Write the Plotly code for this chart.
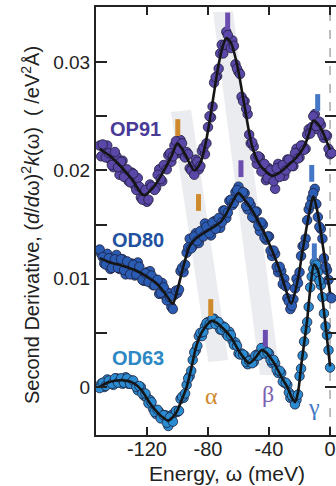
import plotly.graph_objects as go

# ---------------- data ----------------
# fit lines (knots)
op91_line_e = [-151, -144, -138, -130, -122, -116, -110, -104, -100, -95, -89, -85, -82, -79, -76, -73, -70, -68, -65, -61, -56, -51, -46, -42, -38, -33, -28, -22, -17, -14, -11, -8, -5, -2, 0]
op91_line_v = [0.0220, 0.0213, 0.0205, 0.0192, 0.0177, 0.0184, 0.0197, 0.0213, 0.0225, 0.0215, 0.0200, 0.0207, 0.0222, 0.0245, 0.0272, 0.0298, 0.0316, 0.0322, 0.0318, 0.0298, 0.0259, 0.0222, 0.0205, 0.0199, 0.0195, 0.0198, 0.0204, 0.0212, 0.0222, 0.0233, 0.0246, 0.0243, 0.0236, 0.0226, 0.0219]

od80_line_e = [-151, -144, -136, -128, -120, -114, -109, -105, -103, -100, -96, -92, -88, -83, -76, -72, -68, -64, -60, -56, -51, -46, -42, -38, -33, -29, -25.5, -21, -18, -14, -11, -8, -5, -2, 0]
od80_line_v = [0.0119, 0.0115, 0.0112, 0.0108, 0.0102, 0.0096, 0.0088, 0.0080, 0.0077, 0.0090, 0.0112, 0.0130, 0.0137, 0.0142, 0.0148, 0.0152, 0.0160, 0.0171, 0.0179, 0.0173, 0.0163, 0.0150, 0.0139, 0.0126, 0.0108, 0.0090, 0.0077, 0.0100, 0.0126, 0.0158, 0.0176, 0.0160, 0.0133, 0.0105, 0.0087]

od63_line_e = [-151, -146, -140, -134, -128, -123, -118, -112, -106, -101, -97, -94, -91, -88, -85, -82, -78, -75, -70, -65, -60, -56, -53, -49, -45, -42, -38, -35, -31, -28, -25, -23, -21, -19, -17, -15, -13, -10.5, -8, -6, -4, -2, 0]
od63_line_v = [0.0000, 0.0004, 0.0006, 0.0006, 0.0003, -0.0004, -0.0015, -0.0025, -0.0031, -0.0024, -0.0011, 0.0000, 0.0017, 0.0036, 0.0048, 0.0055, 0.0061, 0.0060, 0.0054, 0.0046, 0.0034, 0.0026, 0.0022, 0.0027, 0.0034, 0.0032, 0.0025, 0.0018, 0.0007, 0.0000, -0.0010, -0.0014, -0.0005, 0.0019, 0.0040, 0.0062, 0.0090, 0.0113, 0.0108, 0.0092, 0.0070, 0.0045, 0.0019]

# measured points, first pass (odd energies)
pts_e = [-151, -149, -147, -145, -143, -141, -139, -137, -135, -133, -131, -129, -127, -125, -123, -121, -119, -117, -115, -113,
         -111, -109, -107, -105, -103, -101, -99, -97, -95, -93, -91, -89, -87, -85, -83, -81, -79, -77, -75, -73,
         -71, -69, -67, -65, -63, -61, -59, -57, -55, -53, -51, -49, -47, -45, -43, -41, -39, -37, -35, -33,
         -31, -29, -27, -25, -23, -21, -19, -17, -15, -13, -11, -9, -7, -5, -3, -1, 1]

op91_pts_v = [0.0223, 0.0224, 0.0212, 0.0216, 0.0205, 0.0217, 0.0203, 0.0208, 0.0194, 0.0201, 0.0189, 0.0197, 0.0182, 0.0185, 0.0173, 0.0182, 0.0173, 0.0185, 0.0182, 0.0196,
              0.0192, 0.0205, 0.0201, 0.0216, 0.0213, 0.0227, 0.0219, 0.0225, 0.0212, 0.0215, 0.0200, 0.0196, 0.0208, 0.0204, 0.0221, 0.0225, 0.0250, 0.0259, 0.0286, 0.0294,
              0.0316, 0.0316, 0.0325, 0.0313, 0.0315, 0.0294, 0.0289, 0.0264, 0.0257, 0.0233, 0.0226, 0.0212, 0.0213, 0.0199, 0.0206, 0.0193, 0.0200, 0.0190, 0.0202, 0.0194,
              0.0205, 0.0200, 0.0210, 0.0204, 0.0216, 0.0211, 0.0223, 0.0219, 0.0233, 0.0234, 0.0250, 0.0241, 0.0245, 0.0233, 0.0233, 0.0220, 0.0216]

od80_pts_v = [0.0127, 0.0120, 0.0113, 0.0119, 0.0110, 0.0118, 0.0110, 0.0118, 0.0108, 0.0116, 0.0104, 0.0113, 0.0104, 0.0111, 0.0099, 0.0105, 0.0097, 0.0103, 0.0094, 0.0099,
              0.0087, 0.0092, 0.0080, 0.0083, 0.0072, 0.0089, 0.0090, 0.0110, 0.0113, 0.0129, 0.0128, 0.0139, 0.0135, 0.0144, 0.0139, 0.0148, 0.0142, 0.0152, 0.0146, 0.0156,
              0.0152, 0.0163, 0.0161, 0.0173, 0.0170, 0.0182, 0.0175, 0.0180, 0.0167, 0.0171, 0.0157, 0.0162, 0.0149, 0.0152, 0.0138, 0.0139, 0.0126, 0.0126, 0.0111, 0.0111,
              0.0095, 0.0093, 0.0079, 0.0075, 0.0091, 0.0096, 0.0121, 0.0131, 0.0154, 0.0168, 0.0179, 0.0169, 0.0148, 0.0137, 0.0111, 0.0099, 0.0082]

od63_pts_v = [-0.0001, 0.0004, 0.0001, 0.0006, 0.0003, 0.0008, 0.0004, 0.0008, 0.0004, 0.0008, 0.0003, 0.0006, 0.0000, 0.0001, -0.0006, -0.0006, -0.0015, -0.0014, -0.0023, -0.0021,
              -0.0029, -0.0026, -0.0033, -0.0028, -0.0032, -0.0022, -0.0022, -0.0009, -0.0006, 0.0008, 0.0015, 0.0032, 0.0038, 0.0050, 0.0051, 0.0059, 0.0058, 0.0063, 0.0058, 0.0060,
              0.0053, 0.0055, 0.0047, 0.0048, 0.0039, 0.0038, 0.0030, 0.0030, 0.0023, 0.0024, 0.0022, 0.0029, 0.0029, 0.0036, 0.0031, 0.0032, 0.0025, 0.0025, 0.0016, 0.0015,
              0.0005, 0.0004, -0.0005, -0.0008, -0.0016, -0.0007, 0.0017, 0.0042, 0.0060, 0.0092, 0.0109, 0.0113, 0.0098, 0.0083, 0.0056, 0.0034]

# measured points, second pass (even energies)
pts_e2 = [-150, -148, -146, -144, -142, -140, -138, -136, -134, -132, -130, -128, -126, -124, -122, -120, -118, -116, -114, -112,
          -110, -108, -106, -104, -102, -100, -98, -96, -94, -92, -90, -88, -86, -84, -82, -80, -78, -76, -74, -72,
          -70, -68, -66, -64, -62, -60, -58, -56, -54, -52, -50, -48, -46, -44, -42, -40, -38, -36, -34, -32,
          -30, -28, -26, -24, -22, -20, -18, -16, -14, -12, -10, -8, -6, -4, -2, 0]

op91_pts_v2 = [0.0213, 0.0221, 0.0223, 0.0210, 0.0203, 0.0213, 0.0196, 0.0209, 0.0199, 0.0190, 0.0198, 0.0186, 0.0193, 0.0175, 0.0180, 0.0171, 0.0187, 0.0184, 0.0184, 0.0201,
               0.0190, 0.0204, 0.0214, 0.0208, 0.0223, 0.0216, 0.0228, 0.0214, 0.0217, 0.0202, 0.0204, 0.0210, 0.0201, 0.0218, 0.0215, 0.0240, 0.0249, 0.0281, 0.0287, 0.0308,
               0.0308, 0.0328, 0.0316, 0.0320, 0.0298, 0.0291, 0.0268, 0.0264, 0.0252, 0.0225, 0.0222, 0.0206, 0.0212, 0.0200, 0.0191, 0.0202, 0.0199, 0.0183, 0.0206, 0.0196,
               0.0195, 0.0210, 0.0209, 0.0204, 0.0220, 0.0212, 0.0223, 0.0220, 0.0238, 0.0240, 0.0252, 0.0238, 0.0242, 0.0230, 0.0232, 0.0215]

od80_pts_v2 = [0.0123, 0.0114, 0.0123, 0.0109, 0.0116, 0.0122, 0.0109, 0.0118, 0.0104, 0.0113, 0.0114, 0.0103, 0.0115, 0.0103, 0.0098, 0.0106, 0.0107, 0.0094, 0.0099, 0.0086,
               0.0096, 0.0084, 0.0087, 0.0074, 0.0085, 0.0087, 0.0107, 0.0106, 0.0124, 0.0137, 0.0130, 0.0142, 0.0133, 0.0143, 0.0151, 0.0142, 0.0140, 0.0153, 0.0153, 0.0147,
               0.0163, 0.0156, 0.0172, 0.0168, 0.0180, 0.0185, 0.0180, 0.0179, 0.0164, 0.0168, 0.0156, 0.0162, 0.0144, 0.0150, 0.0136, 0.0139, 0.0121, 0.0123, 0.0106, 0.0107,
               0.0100, 0.0082, 0.0072, 0.0081, 0.0100, 0.0106, 0.0130, 0.0137, 0.0164, 0.0174, 0.0183, 0.0157, 0.0146, 0.0119, 0.0108, 0.0083]

od63_pts_v2 = [0.0003, 0.0000, 0.0007, 0.0004, 0.0002, 0.0008, 0.0007, 0.0003, 0.0009, 0.0003, 0.0006, 0.0002, -0.0003, 0.0000, -0.0008, -0.0010, -0.0012, -0.0020, -0.0025, -0.0023,
               -0.0028, -0.0026, -0.0036, -0.0026, -0.0024, -0.0023, -0.0011, -0.0010, 0.0002, 0.0010, 0.0025, 0.0034, 0.0047, 0.0047, 0.0056, 0.0060, 0.0059, 0.0063, 0.0058, 0.0053,
               0.0056, 0.0049, 0.0051, 0.0043, 0.0041, 0.0031, 0.0031, 0.0029, 0.0021, 0.0025, 0.0023, 0.0030, 0.0030, 0.0036, 0.0031, 0.0031, 0.0022, 0.0022, 0.0013, 0.0013,
               0.0004, 0.0002, -0.0010, -0.0011, -0.0012, 0.0010, 0.0029, 0.0053, 0.0074, 0.0102, 0.0115, 0.0106, 0.0094, 0.0068, 0.0048, 0.0018]

# peak markers (energy, value) per sample: alpha, beta, gamma
mark_e = [-99.8, -67.1, -8.1, -86.2, -58.4, -12.0, -78.2, -42.4, -10.3]
mark_v = [0.02396, 0.0338, 0.02627, 0.01704, 0.02016, 0.01973, 0.00734, 0.0045, 0.01249]
mark_kind = ["a", "b", "g", "a", "b", "g", "a", "b", "g"]

# shaded bands (corner energy, value)
band1_e = [-104.3, -91.1, -66.7, -79.8]
band1_v = [0.0254, 0.0256, 0.0025, 0.0023]
band2_e = [-76.7, -63.6, -32.8, -45.9]
band2_v = [0.0346, 0.0347, 0.0011, 0.0011]

series_names = ["OP91", "OD80", "OD63"]
x_ticks = [-120, -80, -40, 0]
x_ticktext = ["-120", "-80", "-40", "0"]
y_ticks = [0, 0.01, 0.02, 0.03]
y_ticktext = ["0", "0.01", "0.02", "0.03"]

# ---------------- styles ----------------
c_op91, c_od80, c_od63 = "#5a47a8", "#2a5cb3", "#2a8bd0"
c_txt = {"OP91": "#4a3a98", "OD80": "#22519f", "OD63": "#2d88c4"}
c_mark = {"a": "#d08a2e", "b": "#6b4db0", "g": "#4577c6"}

fig = go.Figure()

def band_path(es, vs):
    p = "M %f,%f " % (es[0], vs[0])
    for e, v in zip(es[1:], vs[1:]):
        p += "L %f,%f " % (e, v)
    return p + "Z"

for es, vs in [(band1_e, band1_v), (band2_e, band2_v)]:
    fig.add_shape(type="path", path=band_path(es, vs), xref="x", yref="y",
                  fillcolor="#ebecef", line=dict(width=0), layer="below")

fig.add_shape(type="line", x0=0, x1=0, y0=0, y1=1, xref="x", yref="paper",
              line=dict(color="#9a9a9a", width=1.3, dash="dash"), layer="below")

for pv, pv2, le, lv, col in [(op91_pts_v, op91_pts_v2, op91_line_e, op91_line_v, c_op91),
                             (od80_pts_v, od80_pts_v2, od80_line_e, od80_line_v, c_od80),
                             (od63_pts_v, od63_pts_v2, od63_line_e, od63_line_v, c_od63)]:
    for xe, yv in [(pts_e2, pv2), (pts_e, pv)]:
        fig.add_trace(go.Scatter(x=xe[:len(yv)], y=yv, mode="markers",
                                 marker=dict(size=9.5, color=col, line=dict(color="#1e1e3a", width=0.8)),
                                 showlegend=False, hoverinfo="skip"))
    fig.add_trace(go.Scatter(x=le, y=lv, mode="lines",
                             line=dict(color="#151515", width=2.6, shape="spline", smoothing=0.8),
                             showlegend=False, hoverinfo="skip"))

fig.add_trace(go.Scatter(x=mark_e, y=mark_v, mode="markers",
                         marker=dict(symbol="line-ns", size=12, line=dict(width=5, color=[c_mark[k] for k in mark_kind])),
                         showlegend=False, hoverinfo="skip"))

label_pos = {"OP91": (135, 128.5), "OD80": (137.5, 239.5), "OD63": (137.5, 357.5)}
W, H = 336, 486
L, R, T, B = 96, 0, 7, 51
pw, ph = W - L - R, H - T - B

def px2paper(px, py):
    return (px - L) / pw, 1 - (py - T) / ph

for n in series_names:
    x, y = px2paper(*label_pos[n])
    fig.add_annotation(x=x, y=y, xref="paper", yref="paper", xanchor="center", yanchor="middle",
                       text="<b>%s</b>" % n, showarrow=False,
                       font=dict(family="Liberation Sans, Arial", size=20, color=c_txt[n]))

for ch, (px, py), col in [("α", (211.5, 396), c_mark["a"]), ("β", (267.5, 394), "#7a62b2"), ("γ", (313.5, 407), c_mark["g"])]:
    x, y = px2paper(px, py)
    fig.add_annotation(x=x, y=y, xref="paper", yref="paper", xanchor="center", yanchor="middle",
                       text=ch, showarrow=False,
                       font=dict(family="Liberation Serif, Times New Roman", size=24, color=col))

x, y = px2paper(30, 225)
fig.add_annotation(x=x, y=y, xref="paper", yref="paper", xanchor="center", yanchor="middle",
                   textangle=-90, showarrow=False,
                   text="Second Derivative, (<i>d</i>/<i>d</i>ω)<sup>2</sup><i>k</i>(ω)  ( /eV<sup>2</sup>Å)",
                   font=dict(family="Liberation Sans, Arial", size=20, color="#222"))
x, y = px2paper(227, 473)
fig.add_annotation(x=x, y=y, xref="paper", yref="paper", xanchor="center", yanchor="middle",
                   showarrow=False, text="Energy, ω (meV)",
                   font=dict(family="Liberation Sans, Arial", size=21, color="#222"))

axis_common = dict(showline=True, linewidth=2, linecolor="#222", mirror="ticks", ticks="inside",
                   tickwidth=2, tickcolor="#222", showgrid=False, zeroline=False)
fig.update_xaxes(range=[-153.4, 3.9], tickvals=x_ticks, ticktext=x_ticktext, ticklen=8, ticklabelstandoff=-5,
                 tickfont=dict(family="Liberation Sans, Arial", size=20, color="#222"), **axis_common)
fig.update_yaxes(range=[-0.00443, 0.03509], tickvals=y_ticks, ticktext=y_ticktext, ticklen=11,
                 minor=dict(ticks="inside", tick0=0.005, dtick=0.01, ticklen=11, tickwidth=2, tickcolor="#222", showgrid=False),
                 tickfont=dict(family="Liberation Sans, Arial", size=19, color="#222"), **axis_common)

fig.update_layout(width=W, height=H, margin=dict(l=L, r=R, t=T, b=B, autoexpand=False),
                  paper_bgcolor="white", plot_bgcolor="white", showlegend=False)

fig.write_html("out.html")
